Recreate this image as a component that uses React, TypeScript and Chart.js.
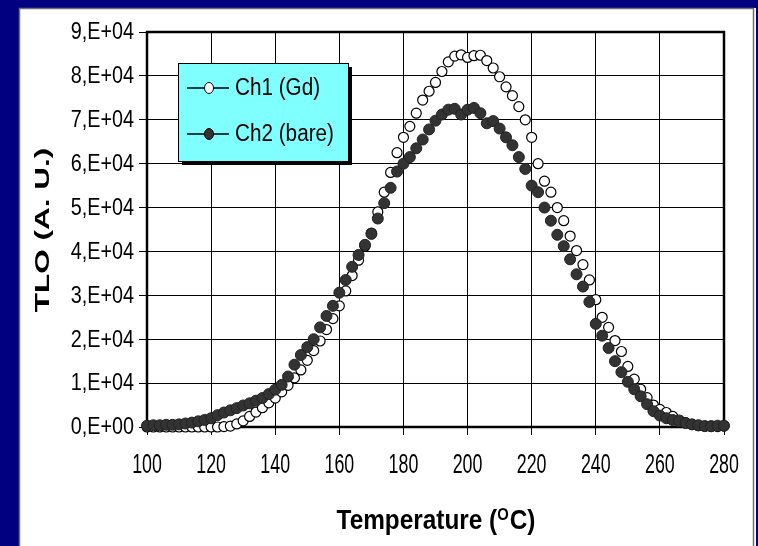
import React, { useEffect, useRef } from "react";
import { Chart, registerables } from "chart.js";

Chart.register(...registerables);

// ---- data ----
const temperatures = [
  100, 102, 104, 106, 108, 110, 112, 114, 116, 118,
  120, 122, 124, 126, 128, 130, 132, 134, 136, 138,
  140, 142, 144, 146, 148, 150, 152, 154, 156, 158,
  160, 162, 164, 166, 168, 170, 172, 174, 176, 178,
  180, 182, 184, 186, 188, 190, 192, 194, 196, 198,
  200, 202, 204, 206, 208, 210, 212, 214, 216, 218,
  220, 222, 224, 226, 228, 230, 232, 234, 236, 238,
  240, 242, 244, 246, 248, 250, 252, 254, 256, 258,
  260, 262, 264, 266, 268, 270, 272, 274, 276, 278,
  280,
];

const ch1Gd = [
  0, 0, 0, 0, 0, 0, 0, 0, 0, 0,
  0, 0, 100, 200, 700, 1400, 2400, 3400, 4400, 5500,
  6600, 8000, 9500, 11200, 13000, 15200, 17400, 19600, 22200, 24700,
  27600, 31000, 34500, 38000, 41200, 44200, 49000, 53500, 58000, 62500,
  66000, 68500, 71500, 74500, 76500, 78500, 81000, 83200, 84500, 84800,
  84200, 84600, 84700, 83500, 81800, 79800, 77500, 75500, 73000, 70000,
  66000, 60000, 56000, 53500, 50000, 47000, 43500, 40200, 37000, 33500,
  29000, 25000, 22700, 19700, 17200, 13800, 10900, 8600, 6700, 5000,
  4000, 3300, 2400, 1600, 1000, 600, 300, 200, 100, 100,
  200,
];

const ch2Bare = [
  300, 400, 400, 500, 500, 600, 800, 1000, 1300, 1600,
  2000, 2700, 3300, 3800, 4300, 4900, 5400, 6000, 6600, 7500,
  8500, 9600, 11500, 14200, 16400, 18200, 20000, 22700, 25300, 27600,
  30600, 33500, 36500, 39200, 41500, 44000, 47500, 51000, 54500, 58200,
  60000, 61500, 63500, 65500, 67800, 69800, 71200, 72300, 72500, 71200,
  72300, 72700, 71500, 69200, 69700, 68000, 66000, 64200, 61500, 58800,
  55000, 53500, 50000, 47000, 43800, 41200, 38200, 34800, 32000, 28500,
  23500, 20800, 18000, 15000, 12500, 10300, 8600, 7000, 5200, 3600,
  2600, 2000, 1600, 1300, 900, 600, 400, 200, 200, 300,
  300,
];

const yTickLabels = [
  "0,E+00", "1,E+04", "2,E+04", "3,E+04", "4,E+04",
  "5,E+04", "6,E+04", "7,E+04", "8,E+04", "9,E+04",
];
const xTickLabels = ["100", "120", "140", "160", "180", "200", "220", "240", "260", "280"];

const seriesNames = ["Ch1 (Gd)", "Ch2 (bare)"];
const xTitleParts = ["Temperature (", "O", "C)"];
const yTitle = "TLO (A. U.)";

const W = 758;
const H = 546;
const CH1_FILL = "#ffffff";
const CH2_FILL = "#333333";
const FONT = "'Liberation Sans', Arial, sans-serif";

function drawScaledText(ctx: any, text: string, x: number, y: number, sx: number, align: string) {
  ctx.save();
  ctx.translate(x, y);
  ctx.scale(sx, 1);
  ctx.textAlign = align;
  ctx.fillText(text, 0, 0);
  ctx.restore();
}

const decorPlugin = {
  id: "decor",
  beforeDraw(chart: any) {
    const ctx = chart.ctx;
    ctx.save();
    ctx.fillStyle = "#000080";
    ctx.fillRect(0, 0, W, H);
    ctx.fillStyle = "#ffffff";
    ctx.fillRect(19, 8, 737, H);
    ctx.strokeStyle = "#707070";
    ctx.lineWidth = 1.5;
    ctx.strokeRect(19.5, 8.5, 734, H + 10);
    ctx.restore();
  },
  beforeDatasetsDraw(chart: any) {
    const ctx = chart.ctx;
    const { left, top, right, bottom } = chart.chartArea;
    ctx.save();
    ctx.strokeStyle = "#000";
    ctx.lineWidth = 2.5;
    ctx.strokeRect(left, top, right - left, bottom - top);
    ctx.restore();
  },
  afterDraw(chart: any) {
    const ctx = chart.ctx;
    const xs = chart.scales.x;
    const ys = chart.scales.y;
    ctx.save();
    ctx.fillStyle = "#000";
    ctx.textBaseline = "middle";

    // tick labels (positions from the chart's own scales)
    ctx.font = `23px ${FONT}`;
    ys.ticks.forEach((t: any, i: number) => {
      const py = ys.getPixelForValue(t.value);
      drawScaledText(ctx, yTickLabels[i], 134, py + 1, 0.86, "right");
    });
    ctx.font = `27px ${FONT}`;
    xs.ticks.forEach((t: any, i: number) => {
      const px = xs.getPixelForValue(t.value);
      drawScaledText(ctx, xTickLabels[i], px, 466, 0.66, "center");
    });

    // legend box
    const bx = 178, by = 63, bw = 170, bh = 98;
    ctx.fillStyle = "#000";
    ctx.fillRect(bx + 4, by + 4, bw, bh);
    ctx.fillStyle = "#80ffff";
    ctx.fillRect(bx, by, bw, bh);
    ctx.strokeStyle = "#000";
    ctx.lineWidth = 1;
    ctx.strokeRect(bx + 0.5, by + 0.5, bw, bh);
    const rows = [
      { y: 88, fill: CH1_FILL, name: seriesNames[0] },
      { y: 134, fill: CH2_FILL, name: seriesNames[1] },
    ];
    ctx.font = `23px ${FONT}`;
    ctx.textBaseline = "middle";
    ctx.textAlign = "left";
    for (const r of rows) {
      ctx.strokeStyle = "#000";
      ctx.lineWidth = 1.5;
      ctx.beginPath();
      ctx.moveTo(187, r.y);
      ctx.lineTo(229, r.y);
      ctx.stroke();
      ctx.beginPath();
      ctx.ellipse(209, r.y, 4.5, 5.5, 0, 0, Math.PI * 2);
      ctx.fillStyle = r.fill;
      ctx.fill();
      ctx.lineWidth = 1;
      ctx.stroke();
      ctx.fillStyle = "#000";
      drawScaledText(ctx, r.name, 235, r.y + 1, 0.9, "left");
    }

    // x title with superscript O (condensed)
    const sx = 0.87;
    const big = `bold 28px ${FONT}`;
    const small = `bold 17px ${FONT}`;
    ctx.font = big;
    const w1 = ctx.measureText(xTitleParts[0]).width * sx;
    const w3 = ctx.measureText(xTitleParts[2]).width * sx;
    ctx.font = small;
    const w2 = ctx.measureText(xTitleParts[1]).width * sx;
    const x0 = 436 - (w1 + w2 + w3 + 1) / 2;
    const yb = 529;
    ctx.textBaseline = "alphabetic";
    ctx.fillStyle = "#000";
    ctx.font = big;
    drawScaledText(ctx, xTitleParts[0], x0, yb, sx, "left");
    ctx.font = small;
    drawScaledText(ctx, xTitleParts[1], x0 + w1, yb - 9, sx, "left");
    ctx.font = big;
    drawScaledText(ctx, xTitleParts[2], x0 + w1 + w2 + 1, yb, sx, "left");

    // y title (stretched along its length)
    ctx.translate(43, 230);
    ctx.rotate(-Math.PI / 2);
    ctx.scale(1.5, 1);
    ctx.font = `bold 21px ${FONT}`;
    ctx.textAlign = "center";
    ctx.textBaseline = "middle";
    ctx.fillText(yTitle, 0, 0);
    ctx.restore();
  },
};

export default function App() {
  const ref = useRef<HTMLCanvasElement | null>(null);

  useEffect(() => {
    if (!ref.current) return;
    const chart = new Chart(ref.current, {
      type: "scatter",
      data: {
        datasets: [
          {
            label: seriesNames[0],
            data: temperatures.map((t, i) => ({ x: t, y: ch1Gd[i] })),
            pointRadius: 5,
            pointBackgroundColor: CH1_FILL,
            pointBorderColor: "#000",
            pointBorderWidth: 1.2,
            showLine: false,
            order: 1,
            clip: false as any,
          },
          {
            label: seriesNames[1],
            data: temperatures.map((t, i) => ({ x: t, y: ch2Bare[i] })),
            pointRadius: 5.5,
            pointBackgroundColor: CH2_FILL,
            pointBorderColor: "#222",
            pointBorderWidth: 1,
            showLine: false,
            order: 0,
            clip: false as any,
          },
        ],
      },
      options: {
        animation: false,
        responsive: false,
        devicePixelRatio: 1,
        layout: { padding: { left: 0, top: 32, right: 34, bottom: 0 } },
        plugins: {
          legend: { display: false },
          tooltip: { enabled: false },
        },
        scales: {
          x: {
            type: "linear",
            min: 100,
            max: 280,
            afterFit: (s: any) => {
              s.height = 119;
            },
            ticks: { stepSize: 20, display: false },
            grid: { color: "#000", lineWidth: 1, tickLength: 8, tickColor: "#000" },
            border: { color: "#000", width: 2 },
          },
          y: {
            type: "linear",
            min: 0,
            max: 90000,
            afterFit: (s: any) => {
              s.width = 147;
            },
            ticks: { stepSize: 10000, display: false },
            grid: { color: "#000", lineWidth: 1, tickLength: 8, tickColor: "#000" },
            border: { color: "#000", width: 2 },
          },
        },
      },
      plugins: [decorPlugin],
    });
    return () => chart.destroy();
  }, []);

  return (
    <div style={{ position: "fixed", left: 0, top: 0, width: W, height: H }}>
      <canvas ref={ref} width={W} height={H} style={{ display: "block", width: W, height: H }} />
    </div>
  );
}
